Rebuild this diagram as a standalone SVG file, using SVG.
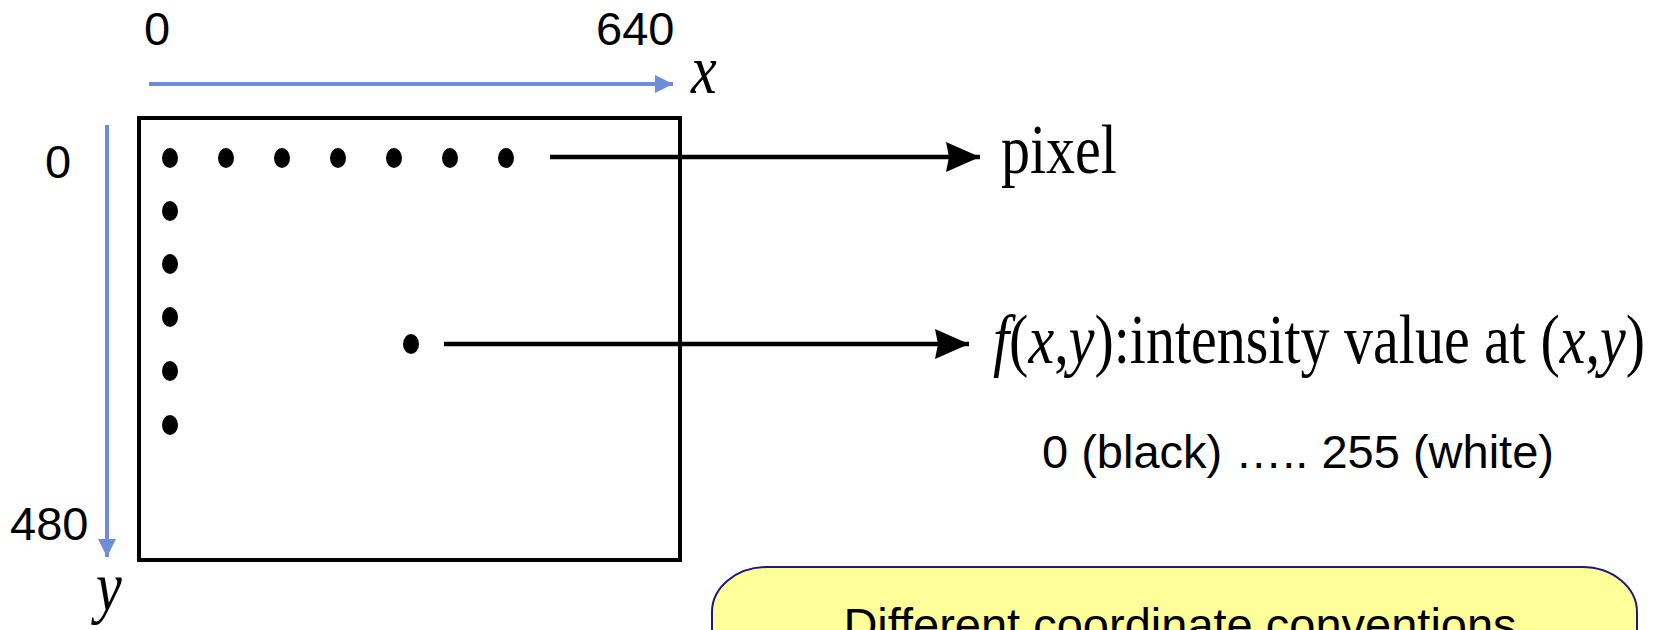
<svg xmlns="http://www.w3.org/2000/svg" width="1660" height="630" viewBox="0 0 1660 630">
  <style>
    .num { font-family: "Liberation Sans", Arial, sans-serif; font-size: 47px; fill: #000; }
    .tnr { font-family: "Liberation Serif", "Times New Roman", serif; font-size: 58px; fill: #000; }
    .it { font-style: italic; }
    .axis { stroke: #6d8cd9; stroke-width: 4; fill: none; }
    .conn { stroke: #000; stroke-width: 4.5; fill: none; }
    .dot { fill: #000; }
  </style>
  <defs>
    <marker id="blueHead" viewBox="0 0 18 18" refX="18" refY="9" markerWidth="18" markerHeight="18" markerUnits="userSpaceOnUse" orient="auto">
      <path d="M0,0 L18,9 L0,18 Z" fill="#6d8cd9"/>
    </marker>
    <marker id="blackHead" viewBox="0 0 34 30" refX="34" refY="15" markerWidth="34" markerHeight="30" markerUnits="userSpaceOnUse" orient="auto">
      <path d="M0,0 L34,15 L0,30 L3,15 Z" fill="#000"/>
    </marker>
  </defs>

  <rect width="1660" height="630" fill="#fff"/>

  <g id="axis-labels">
    <text class="num" x="144" y="45">0</text>
    <text class="num" x="596" y="45">640</text>
    <text class="num" x="45" y="178">0</text>
    <text class="num" x="10" y="540">480</text>
    <text class="tnr it" transform="translate(691,93) scale(1,1.2)">x</text>
    <text class="tnr it" transform="translate(96,610) scale(1,1.2)">y</text>
  </g>

  <g id="image-frame">
    <rect x="139" y="118" width="541" height="442" fill="none" stroke="#000" stroke-width="4"/>
  </g>

  <g id="pixels">
    <ellipse class="dot" cx="170" cy="158" rx="8" ry="10"/>
    <ellipse class="dot" cx="226" cy="158" rx="8" ry="10"/>
    <ellipse class="dot" cx="282" cy="158" rx="8" ry="10"/>
    <ellipse class="dot" cx="338" cy="158" rx="8" ry="10"/>
    <ellipse class="dot" cx="394" cy="158" rx="8" ry="10"/>
    <ellipse class="dot" cx="450" cy="158" rx="8" ry="10"/>
    <ellipse class="dot" cx="506" cy="158" rx="8" ry="10"/>
    <ellipse class="dot" cx="170" cy="211" rx="8" ry="10"/>
    <ellipse class="dot" cx="170" cy="264" rx="8" ry="10"/>
    <ellipse class="dot" cx="170" cy="317" rx="8" ry="10"/>
    <ellipse class="dot" cx="170" cy="371" rx="8" ry="10"/>
    <ellipse class="dot" cx="170" cy="425" rx="8" ry="10"/>
    <ellipse class="dot" cx="411" cy="344" rx="8" ry="10"/>
  </g>

  <g id="connectors">
    <line class="axis" x1="149" y1="84" x2="673" y2="84" marker-end="url(#blueHead)"/>
    <line class="axis" x1="107" y1="125" x2="107" y2="557" marker-end="url(#blueHead)"/>
    <line class="conn" x1="550" y1="157" x2="980" y2="157" marker-end="url(#blackHead)"/>
    <line class="conn" x1="444" y1="344" x2="969" y2="344" marker-end="url(#blackHead)"/>
  </g>

  <g id="label-pixel">
    <text class="tnr" transform="translate(1001,173) scale(1,1.2)">pixel</text>
  </g>

  <g id="label-intensity">
    <text class="tnr" transform="translate(993,363) scale(1,1.2)"><tspan class="it">f</tspan>(<tspan class="it">x</tspan>,<tspan class="it">y</tspan>):intensity value at (<tspan class="it">x</tspan>,<tspan class="it">y</tspan>)</text>
  </g>

  <g id="label-range">
    <text class="num" x="1042" y="468">0 (black) ….. 255 (white)</text>
  </g>

  <g id="note">
    <rect x="712" y="567" width="925" height="140" rx="55" ry="45" fill="#ffff99" stroke="#1a1a80" stroke-width="2"/>
    <text class="num" x="1180" y="641" text-anchor="middle">Different coordinate conventions</text>
  </g>
</svg>
